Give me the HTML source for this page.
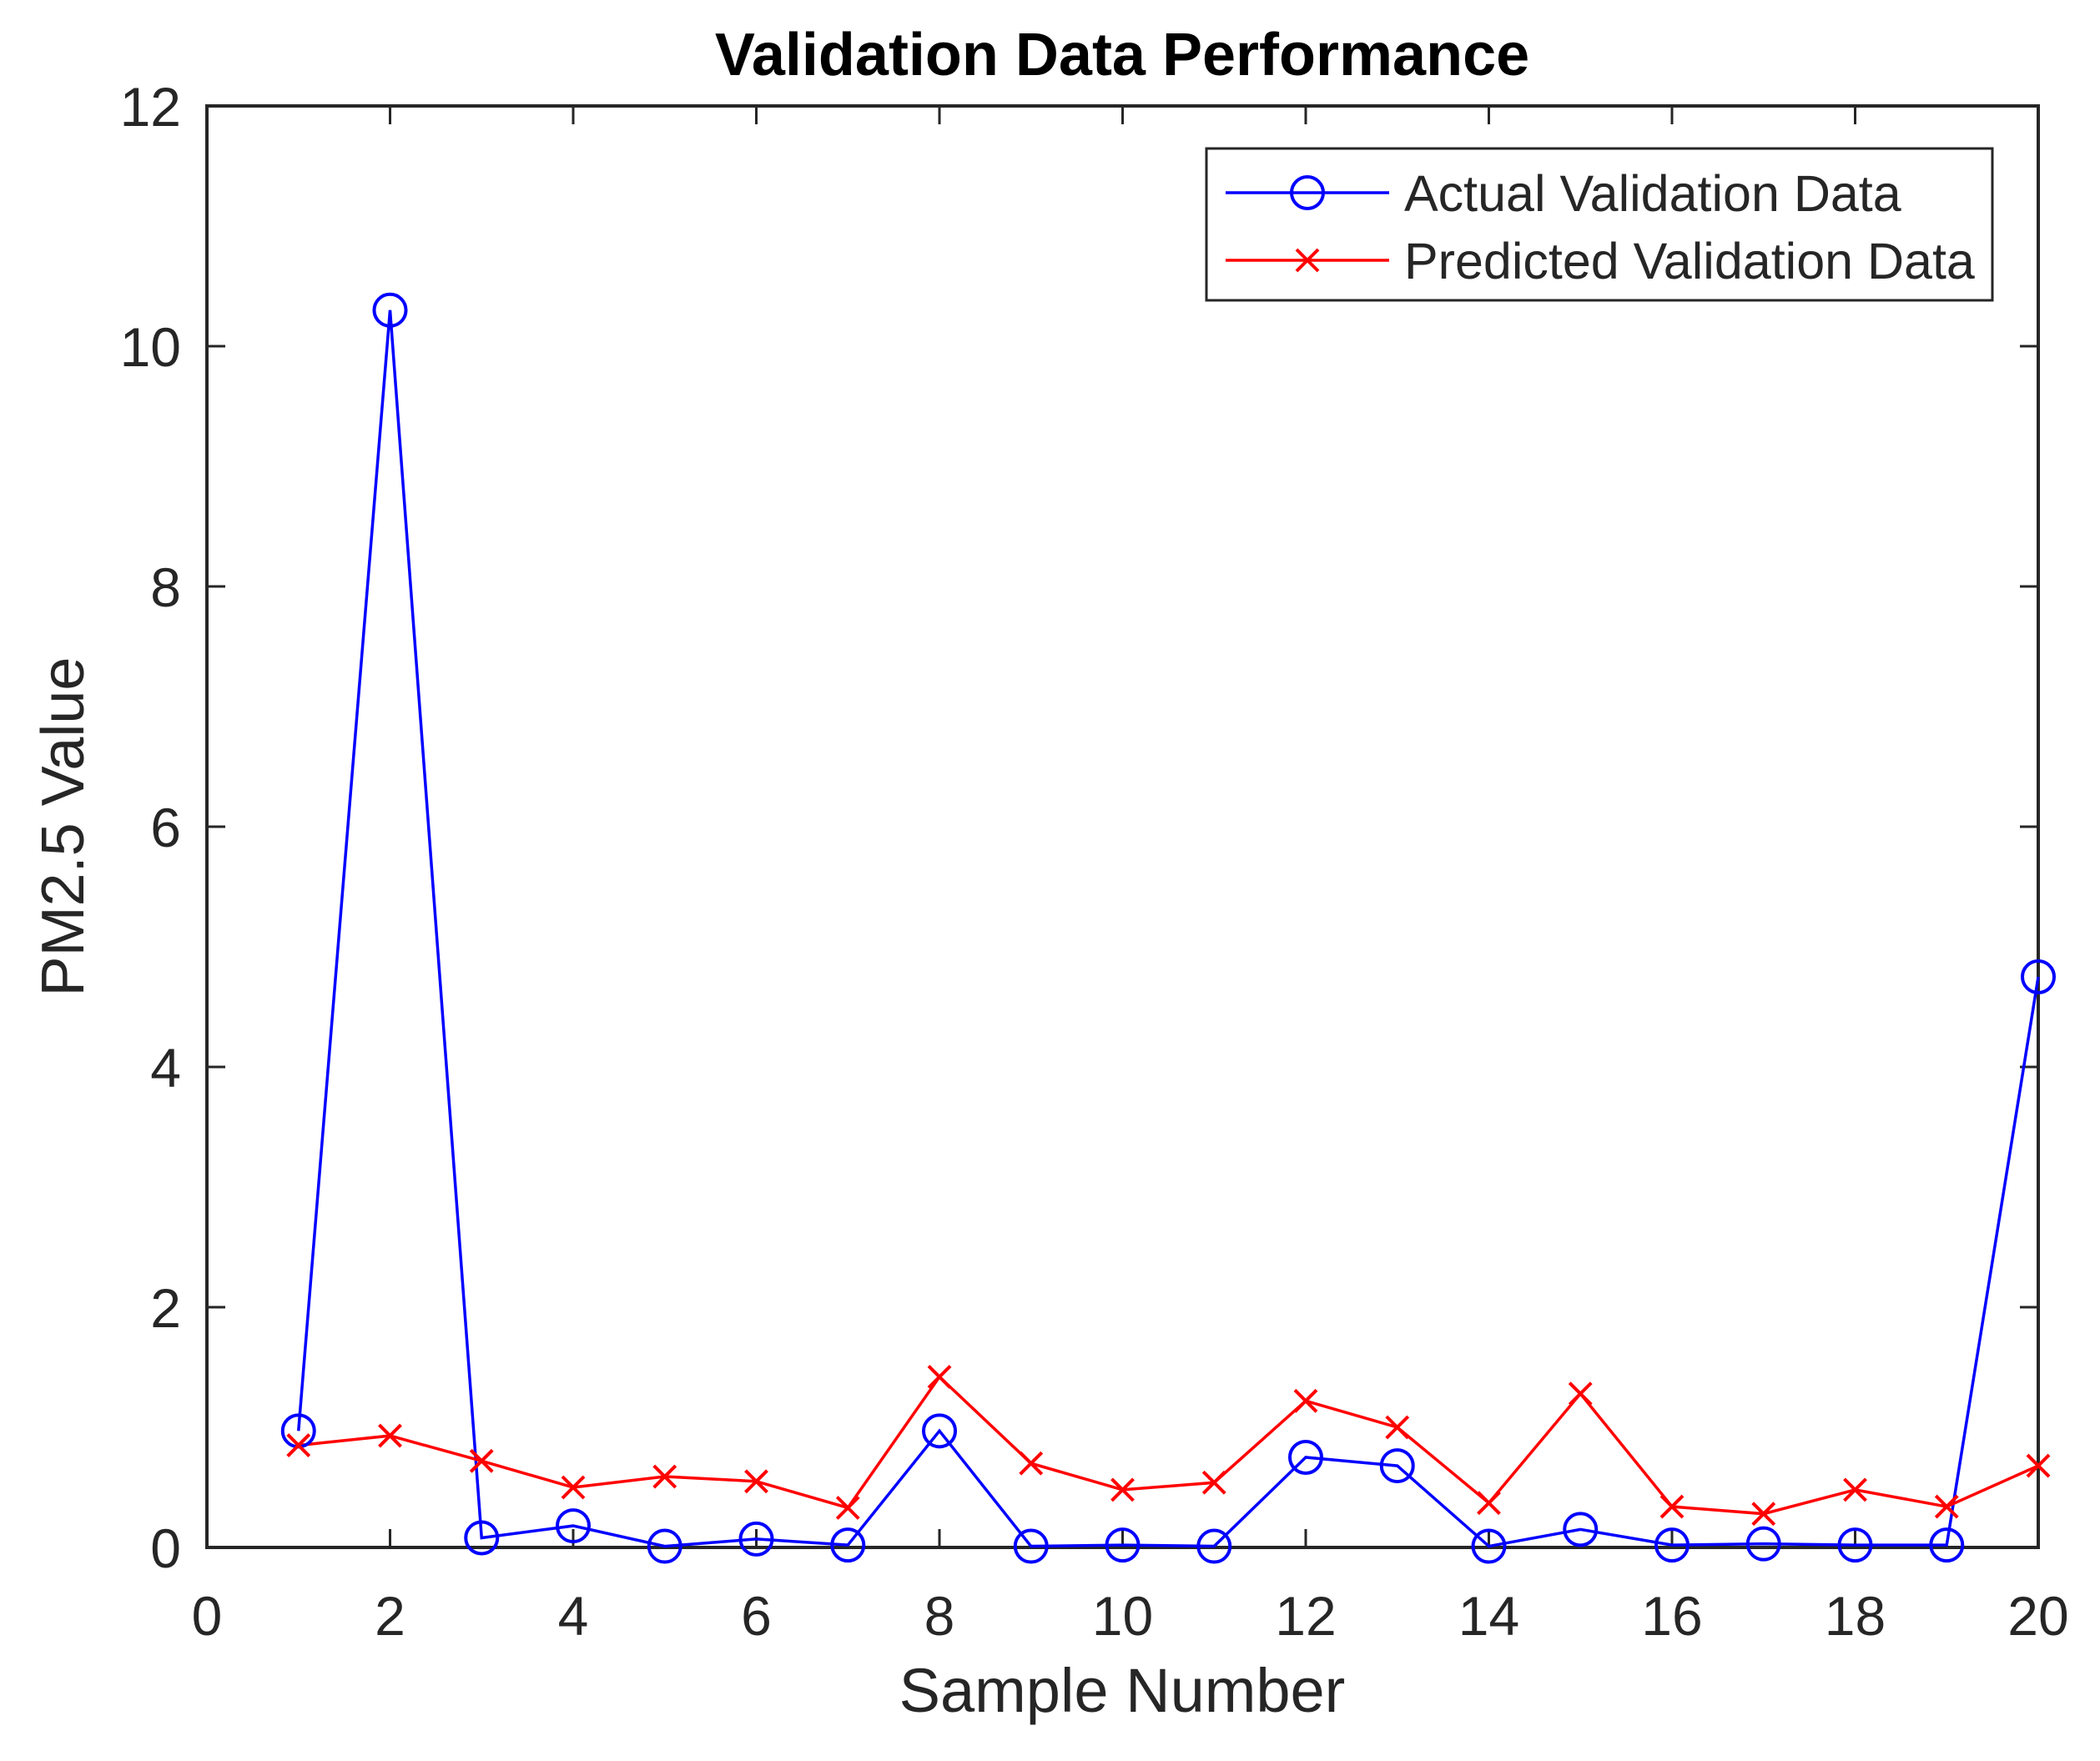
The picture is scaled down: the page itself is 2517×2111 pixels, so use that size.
<!DOCTYPE html>
<html><head><meta charset="utf-8"><style>body{margin:0;background:#fff}svg text{font-family:"Liberation Sans",sans-serif;fill:#262626}</style></head>
<body>
<svg id="c" width="2517" height="2106" xmlns="http://www.w3.org/2000/svg">
<text x="1345" y="90" font-size="72" font-weight="bold" text-anchor="middle" style="fill:#000">Validation Data Performance</text>
<text x="1345" y="2052" font-size="74" text-anchor="middle">Sample Number</text>
<text transform="translate(100,991) rotate(-90)" font-size="72" text-anchor="middle">PM2.5 Value</text>
<g id="ax"></g>
</svg>
<script>
const xTicks=[0,2,4,6,8,10,12,14,16,18,20];
const yTicks=[0,2,4,6,8,10,12];
const samples=[1,2,3,4,5,6,7,8,9,10,11,12,13,14,15,16,17,18,19,20];
const actual=[0.97,10.3,0.08,0.18,0.01,0.07,0.02,0.97,0.01,0.02,0.01,0.75,0.68,0.01,0.15,0.02,0.03,0.02,0.02,4.75];
const predicted=[0.85,0.93,0.72,0.5,0.59,0.55,0.33,1.42,0.7,0.48,0.54,1.22,1.0,0.37,1.28,0.34,0.28,0.48,0.34,0.68];
const L=248,R=2443,T=127,B=1855;
const sx=v=>L+(v-0)/20*(R-L), sy=v=>B-v/12*(B-T);
const NS='http://www.w3.org/2000/svg', g=document.getElementById('ax');
function mk(t,a){const e=document.createElementNS(NS,t);for(const k in a)e.setAttribute(k,a[k]);g.appendChild(e);return e;}
xTicks.forEach(v=>{
 const t=mk('line',{x1:sx(v),x2:sx(v),y1:B,y2:B-22,stroke:'#262626','stroke-width':3});
 
 
 const t2=mk('line',{x1:sx(v),x2:sx(v),y1:T,y2:T+22,stroke:'#262626','stroke-width':3});
 
 
 const l=mk('text',{x:sx(v),y:1960,'font-size':66,'text-anchor':'middle'});l.textContent=v;
 
 
});
yTicks.forEach(v=>{
 const t=mk('line',{x1:L,x2:L+22,y1:sy(v),y2:sy(v),stroke:'#262626','stroke-width':3});
 
 
 const t2=mk('line',{x1:R,x2:R-22,y1:sy(v),y2:sy(v),stroke:'#262626','stroke-width':3});
 
 
 const l=mk('text',{x:217,y:sy(v)+24,'font-size':66,'text-anchor':'end'});l.textContent=v;
 
 
});
const box=mk('rect',{x:L,y:T,width:R-L,height:B-T,fill:'none',stroke:'#262626','stroke-width':4});


const pl=mk('polyline',{points:samples.map((s,i)=>sx(s)+','+sy(actual[i])).join(' '),fill:'none',stroke:'#0000ff','stroke-width':3.5});


const pp=mk('polyline',{points:samples.map((s,i)=>sx(s)+','+sy(predicted[i])).join(' '),fill:'none',stroke:'#ff0000','stroke-width':3.5});


function circ(x,y){const c=mk('circle',{cx:x,cy:y,r:19,fill:'none',stroke:'#0000ff','stroke-width':4});return c;}
function cross(x,y){const p=mk('path',{d:`M${x-13},${y-13}L${x+13},${y+13}M${x-13},${y+13}L${x+13},${y-13}`,stroke:'#ff0000','stroke-width':4});return p;}
samples.forEach((s,i)=>{
 const c=circ(sx(s),sy(actual[i]));
 
 
 const x=cross(sx(s),sy(predicted[i]));
 
 
});
const lg=mk('rect',{x:1446,y:178,width:942,height:182,fill:'#fff',stroke:'#262626','stroke-width':3});


const l1=mk('line',{x1:1469,x2:1665,y1:231,y2:231,stroke:'#0000ff','stroke-width':3.5});


const c1=circ(1567,231);


const t1=mk('text',{x:1683,y:253,'font-size':61});t1.textContent='Actual Validation Data';


const l2=mk('line',{x1:1469,x2:1665,y1:312,y2:312,stroke:'#ff0000','stroke-width':3.5});


const c2=cross(1567,312);


const t2=mk('text',{x:1683,y:334,'font-size':61});t2.textContent='Predicted Validation Data';


</script>
</body></html>
